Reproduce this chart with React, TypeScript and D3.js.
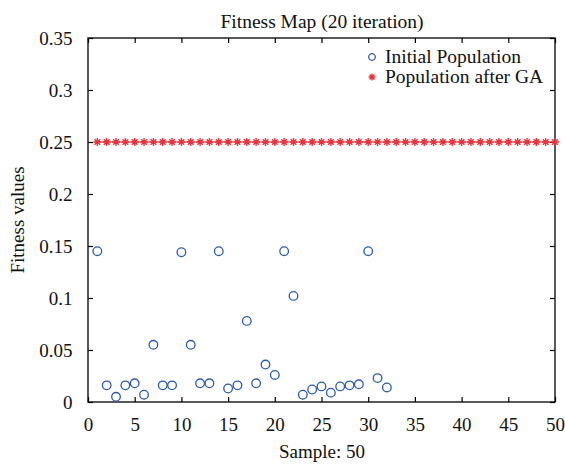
import React, { useEffect, useRef } from 'react';
import * as d3 from 'd3';

// Initial population fitness, samples 1..32
const initialFitness = [
  0.145, 0.016, 0.005, 0.016, 0.018, 0.007, 0.055, 0.016, 0.016, 0.144,
  0.055, 0.018, 0.018, 0.145, 0.013, 0.016, 0.078, 0.018, 0.036, 0.026,
  0.145, 0.102, 0.007, 0.012, 0.015, 0.009, 0.015, 0.016, 0.017, 0.145,
  0.023, 0.014,
];
// Population after GA, samples 1..50
const afterGA = [
  0.25, 0.25, 0.25, 0.25, 0.25, 0.25, 0.25, 0.25, 0.25, 0.25,
  0.25, 0.25, 0.25, 0.25, 0.25, 0.25, 0.25, 0.25, 0.25, 0.25,
  0.25, 0.25, 0.25, 0.25, 0.25, 0.25, 0.25, 0.25, 0.25, 0.25,
  0.25, 0.25, 0.25, 0.25, 0.25, 0.25, 0.25, 0.25, 0.25, 0.25,
  0.25, 0.25, 0.25, 0.25, 0.25, 0.25, 0.25, 0.25, 0.25, 0.25,
];
const xTicks = [0, 5, 10, 15, 20, 25, 30, 35, 40, 45, 50];
const yTicks = [0, 0.05, 0.1, 0.15, 0.2, 0.25, 0.3, 0.35];

const FONT = 'Liberation Serif, Times New Roman, DejaVu Serif, serif';

const App = () => {
  const ref = useRef<SVGSVGElement>(null);

  useEffect(() => {
    const width = 565;
    const height = 464;
    const margin = { top: 38, right: 10, bottom: 62, left: 88 };
    const innerWidth = width - margin.left - margin.right;
    const innerHeight = height - margin.top - margin.bottom;

    const root = d3.select(ref.current);
    root.selectAll('*').remove();
    const svg = root.append('g').attr('transform', `translate(${margin.left},${margin.top})`);

    const x = d3.scaleLinear().domain([0, 50]).range([0, innerWidth]);
    const y = d3.scaleLinear().domain([0, 0.35]).range([innerHeight, 0]);

    // frame
    svg.append('rect')
      .attr('width', innerWidth).attr('height', innerHeight)
      .attr('fill', 'none').attr('stroke', '#000').attr('stroke-width', 1.3);

    const styleAxis = (g: any, showText: boolean) => {
      g.attr('font-family', FONT).attr('font-size', 19);
      g.select('.domain').remove();
      g.selectAll('.tick line').attr('stroke', '#000').attr('stroke-width', 1.2);
      g.selectAll('.tick text')
        .attr('fill', '#111')
        .style('display', showText ? null : 'none');
    };

    const fmtY = (d: any) => (d === 0 ? '0' : String(+d.toFixed(2)));

    svg.append('g').attr('transform', `translate(0,${innerHeight})`)
      .call(d3.axisBottom(x).tickValues(xTicks).tickSize(-5).tickPadding(16).tickFormat(d3.format('d')))
      .call((g: any) => styleAxis(g, true));
    svg.append('g')
      .call(d3.axisTop(x).tickValues(xTicks).tickSize(-5))
      .call((g: any) => styleAxis(g, false));
    svg.append('g')
      .call(d3.axisLeft(y).tickValues(yTicks).tickSize(-5).tickPadding(15.5).tickFormat(fmtY))
      .call((g: any) => styleAxis(g, true));
    svg.append('g').attr('transform', `translate(${innerWidth},0)`)
      .call(d3.axisRight(y).tickValues(yTicks).tickSize(-5))
      .call((g: any) => styleAxis(g, false));

    // GA line + star markers
    const red = '#e8323c';
    const line = d3.line<number>().x((_, i) => x(i + 1)).y(d => y(d));
    svg.append('path').datum(afterGA)
      .attr('d', line).attr('fill', 'none').attr('stroke', red).attr('stroke-width', 1.2);

    const starPath = (s: number) => {
      const d = s * 0.7071;
      return `M${-s},0L${s},0M0,${-s}L0,${s}M${-d},${-d}L${d},${d}M${-d},${d}L${d},${-d}`;
    };
    svg.append('g').selectAll('path')
      .data(afterGA).enter().append('path')
      .attr('transform', (d, i) => `translate(${x(i + 1)},${y(d)})`)
      .attr('d', starPath(4))
      .attr('stroke', red).attr('stroke-width', 1.4).attr('fill', 'none');

    // initial population circles
    const blue = '#2b5cb0';
    svg.append('g').selectAll('circle')
      .data(initialFitness).enter().append('circle')
      .attr('cx', (_, i) => x(i + 1)).attr('cy', d => y(d))
      .attr('r', 4.3)
      .attr('fill', 'none').attr('stroke', blue).attr('stroke-width', 1.3);

    // legend
    const lg = svg.append('g').attr('transform', `translate(${284},${19})`)
      .attr('font-family', FONT).attr('font-size', 19.5).attr('fill', '#111');
    lg.append('circle').attr('cx', 0).attr('cy', 0).attr('r', 3.3)
      .attr('fill', 'none').attr('stroke', blue).attr('stroke-width', 1.3);
    lg.append('text').attr('x', 13).attr('y', 5.5).text('Initial Population');
    lg.append('path').attr('transform', 'translate(0,20)').attr('d', starPath(3.5))
      .attr('stroke', red).attr('stroke-width', 1.4);
    lg.append('text').attr('x', 13).attr('y', 25.5).text('Population after GA');

    // titles
    const labels = svg.append('g').attr('font-family', FONT)
      .attr('fill', '#111').attr('text-anchor', 'middle');
    labels.append('text')
      .attr('x', innerWidth / 2 + 0.5).attr('y', -10)
      .attr('font-size', 19.5)
      .text('Fitness Map (20 iteration)');
    labels.append('text')
      .attr('x', innerWidth / 2 + 0.5).attr('y', innerHeight + 56)
      .attr('font-size', 19)
      .text('Sample: 50');
    labels.append('text')
      .attr('transform', `translate(${-64},${innerHeight / 2}) rotate(-90)`)
      .attr('font-size', 19)
      .text('Fitness values');
  }, []);

  return (
    <svg ref={ref} width={565} height={464}
      style={{ position: 'absolute', left: 0, top: 0, background: '#fff' }} />
  );
};

export default App;
